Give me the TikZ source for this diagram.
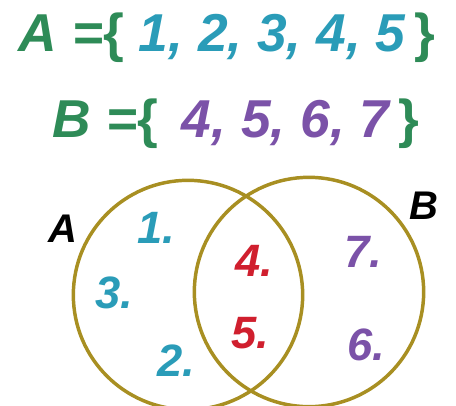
\documentclass[tikz,border=0pt]{standalone}
\usepackage{fontspec}
\setmainfont{Liberation Sans}
\usetikzlibrary{positioning}
\definecolor{SetGreen}  {HTML}{2E8B57}
\definecolor{Teal}      {HTML}{2A9CB8}
\definecolor{Violet}    {HTML}{7B52A8}
\definecolor{Crimson}   {HTML}{D01F2E}
\definecolor{Ring}      {HTML}{A88F22}

\begin{document}
\begin{tikzpicture}[
  x=0.75pt, y=-0.75pt,
  every node/.style={font=\bfseries\itshape, inner sep=0pt},
  setline/.style={font=\fontsize{40}{42}\selectfont\bfseries\itshape, anchor=center},
  elem/.style={font=\fontsize{34}{36}\selectfont\bfseries\itshape},
  ring/.style={draw=Ring, line width=2.6pt, circle, minimum size=172pt},
]
  \useasboundingbox (0,0) rectangle (456,406);
  \fill[white] (0,0) rectangle (456,406);

  % set definitions
  \node[setline] (defA) at (227,38) {\textcolor{SetGreen}{A =\textup{\{}}
    \textcolor{Teal}{1, 2, 3, 4, 5}\,\textcolor{SetGreen}{\textup{\}}}};
  \node[setline] (defB) at (236,124) {\textcolor{SetGreen}{B =\textup{\{}}
    \textcolor{Violet}{\,4, 5, 6, 7}\,\textcolor{SetGreen}{\textup{\}}}};

  % venn diagram
  \node[ring] (setA) at (188,295) {};
  \node[ring] (setB) at (309,292) {};
  \node[font=\fontsize{30}{32}\selectfont\bfseries\itshape] (labA) at (63,229) {A};
  \node[font=\fontsize{30}{32}\selectfont\bfseries\itshape] (labB) at (424,206) {B};

  \node[elem, text=Teal]    (e1) at (156,228) {1.};
  \node[elem, text=Teal]    (e3) at (114,293) {3.};
  \node[elem, text=Teal]    (e2) at (176,361) {2.};
  \node[elem, text=Crimson] (e4) at (254,261) {4.};
  \node[elem, text=Crimson] (e5) at (250,333) {5.};
  \node[elem, text=Violet]  (e7) at (363,252) {7.};
  \node[elem, text=Violet]  (e6) at (366,345) {6.};
\end{tikzpicture}
\end{document}
